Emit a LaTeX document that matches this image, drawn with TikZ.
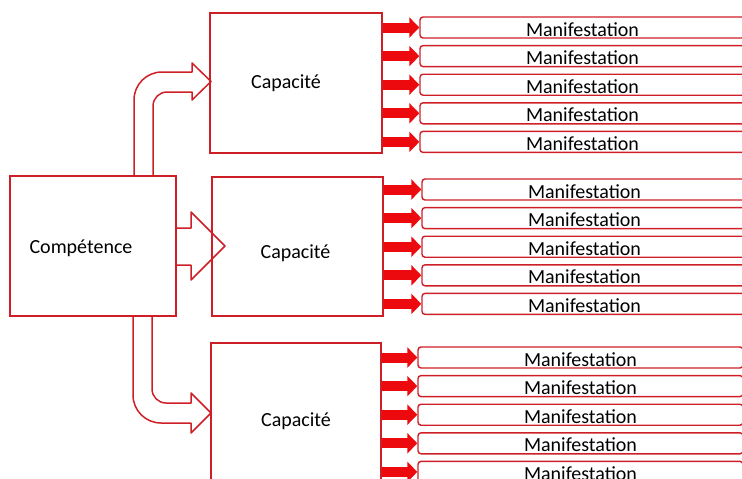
\documentclass[tikz,border=0pt]{standalone}
\usepackage{fontspec}
\setmainfont{Carlito}
\usepackage{tikz}
\usetikzlibrary{arrows.meta, positioning}

\definecolor{rougecadre}{RGB}{206,30,38}
\definecolor{rougefleche}{RGB}{236,10,14}

\begin{document}
\begin{tikzpicture}[x=1pt, y=-1pt, font=\fontsize{20}{24}\selectfont,
    cadre/.style={draw=rougecadre, line width=1.6pt, inner sep=0pt},
    manif/.style={draw=rougecadre, line width=1.4pt, rounded corners=3pt,
        minimum width=325pt, minimum height=21pt, inner sep=0pt,
        text height=17pt, text depth=0pt},
    flecherouge/.style={draw=rougefleche, line width=10pt,
        -{Triangle[length=10pt, width=20pt]}},
    flechebloc/.style={draw=rougecadre, line width=1.5pt, line join=round}]
    \useasboundingbox (0,0) rectangle (742,479);
    \clip (0,0) rectangle (742,479);

    % la compétence et ses trois capacités
    \node[cadre, minimum width=166pt, minimum height=140pt,
        label={[xshift=-12pt, yshift=-2pt]center:Compétence}] (comp) at (93,246) {};
    \node[cadre, minimum width=172pt, minimum height=140pt,
        label={[xshift=-10pt]center:Capacité}] (cap1) at (296,83) {};
    \node[cadre, minimum width=171pt, minimum height=139pt,
        label={[xshift=-2pt, yshift=-6.5pt]center:Capacité}] (cap2) at (297.5,246.5) {};
    \node[cadre, minimum width=170pt, minimum height=140pt,
        label={[yshift=-8pt]center:Capacité}] (cap3) at (296,413) {};

    % flèches larges
    \draw[flechebloc] (134,176) -- (134,100) .. controls (134,84.5) and (146.5,72) .. (162,72)
        -- (192,72) -- (192,63) -- (211,81.5) -- (192,100) -- (192,92) -- (167,92)
        .. controls (159.3,92) and (153,98.3) .. (153,106) -- (153,176) -- cycle;
    \draw[flechebloc] (176,228) -- (191,228) -- (191,212) -- (225,246) -- (191,280)
        -- (191,265) -- (176,265) -- cycle;
    \draw[flechebloc] (133,316) -- (133,395) .. controls (133,410.5) and (145.5,423) .. (161,423)
        -- (191,423) -- (191,433) -- (211,413) -- (191,393) -- (191,403) -- (166,403)
        .. controls (158.3,403) and (152,396.7) .. (152,389) -- (152,316) -- cycle;

    % manifestations
    \foreach \g/\haut/\gauche in {1/17/420, 2/179/422, 3/347/418}
        \foreach \i in {1,...,5}
            \node[manif] (m-\g-\i) at ({\gauche+162.5}, {\haut+10.5+28.6*(\i-1)}) {Manifestation};

    \foreach \g in {1,2,3}
        \foreach \i in {1,...,5}
            \draw[flecherouge] (cap\g.east |- m-\g-\i.west) -- (m-\g-\i.west);
\end{tikzpicture}
\end{document}
